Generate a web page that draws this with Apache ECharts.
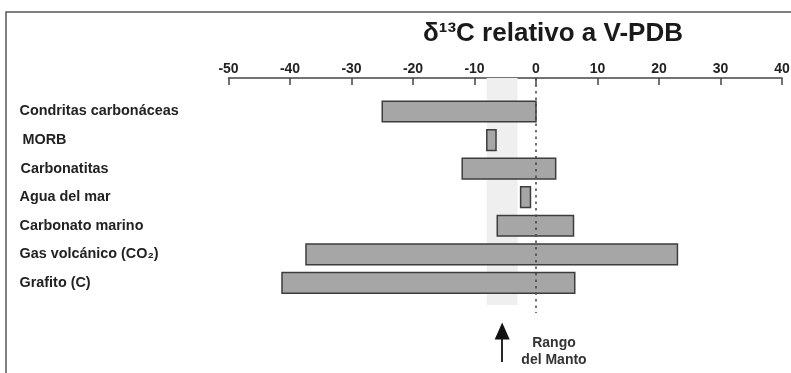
<!DOCTYPE html>
<html>
<head>
<meta charset="utf-8">
<script src="https://cdn.jsdelivr.net/npm/echarts@6/dist/echarts.min.js"></script>
<style>html,body{margin:0;padding:0;background:#fff}#c{width:791px;height:373px}</style>
</head>
<body>
<div id="c"></div>
<script>
const categories = ['Condritas carbonáceas', 'MORB', 'Carbonatitas', 'Agua del mar', 'Carbonato marino', 'Gas volcánico (CO₂)', 'Grafito (C)'];
const lowValues  = [-25, -8, -12, -2.5, -6.3, -37.4, -41.3];
const highValues = [0, -6.5, 3.2, -0.9, 6.1, 23.0, 6.3];
const mantleRange = [-8, -3];
const mantleArrowAt = -5.5;
const xMin = -50, xMax = 40, xStep = 10;

const FONT = '"Liberation Sans", Arial, sans-serif';
const chart = echarts.init(document.getElementById('c'), null, {renderer: 'canvas'});

const rangeData = categories.map((c, i) => [lowValues[i], highValues[i], i]);
const labelIndent = [0, 3, 1, 0, 0, 0, 0];

const option = {
  animation: false,
  backgroundColor: '#fff',
  textStyle: {fontFamily: FONT},
  grid: [
    {left: 228.5, right: 9, top: 78, height: 287, containLabel: false, outerBoundsMode: 'none'},
    {left: 228.5, right: 9, top: 97.2, height: 200, containLabel: false, outerBoundsMode: 'none'}
  ],
  xAxis: [
    {
      gridIndex: 0, type: 'value', position: 'top', min: xMin, max: xMax, interval: xStep,
      axisLine: {show: true, lineStyle: {color: '#444', width: 1.5}},
      axisTick: {show: true, inside: true, length: 7, lineStyle: {color: '#444', width: 1.5}},
      axisLabel: {margin: 2, fontSize: 14, fontWeight: 'bold', color: '#222', fontFamily: FONT},
      splitLine: {show: false}
    },
    {
      gridIndex: 1, type: 'value', min: xMin, max: xMax, interval: xStep, show: false
    }
  ],
  yAxis: [
    {gridIndex: 0, type: 'value', min: 0, max: 287, inverse: true, show: false},
    {
      gridIndex: 1, type: 'category', inverse: true,
      data: categories.map((c, i) => ({value: c, textStyle: {align: 'left', padding: [0, 0, 0, labelIndent[i]]}})),
      axisLine: {show: false}, axisTick: {show: false},
      axisLabel: {align: 'left', margin: 209, fontSize: 14.4, fontWeight: 'bold', color: '#222', fontFamily: FONT}
    }
  ],
  series: [
    {
      type: 'scatter', xAxisIndex: 0, yAxisIndex: 0, data: [], z: 1, silent: true,
      markArea: {
        silent: true,
        itemStyle: {color: '#efefef'},
        data: [[{coord: [mantleRange[0], 0]}, {coord: [mantleRange[1], 227]}]]
      },
      markLine: {
        silent: true, symbol: ['none', 'none'], label: {show: false},
        lineStyle: {color: '#444', width: 1.5, type: [2.5, 4]},
        data: [[{coord: [0, 0]}, {coord: [0, 235]}]]
      }
    },
    {
      type: 'custom', xAxisIndex: 1, yAxisIndex: 1, z: 3,
      data: rangeData,
      encode: {x: [0, 1], y: 2},
      renderItem: function (params, api) {
        const a = api.coord([api.value(0), api.value(2)]);
        const b = api.coord([api.value(1), api.value(2)]);
        const h = api.size([0, 1])[1] * 0.724;
        return {
          type: 'rect',
          shape: {x: a[0], y: a[1] - h / 2, width: b[0] - a[0], height: h},
          style: {fill: '#a6a6a6', stroke: '#3d3d3d', lineWidth: 1.5}
        };
      }
    },
    {
      type: 'scatter', xAxisIndex: 0, yAxisIndex: 0, data: [], z: 4, silent: true,
      markLine: {
        silent: true, symbol: ['none', 'triangle'], symbolSize: [15, 17], label: {show: false},
        lineStyle: {color: '#111', width: 1.8, type: 'solid'},
        itemStyle: {color: '#111'},
        data: [[{coord: [mantleArrowAt, 284]}, {coord: [mantleArrowAt, 253]}]]
      }
    }
  ],
  graphic: [
    {type: 'polyline', shape: {points: [[6, 373], [6, 12], [791, 12]]}, style: {stroke: '#555', lineWidth: 1.5, fill: null}},
    {type: 'text', x: 553, y: 34, style: {text: 'δ¹³C relativo a V-PDB', font: 'bold 26px ' + FONT, fill: '#1a1a1a', textAlign: 'center', textVerticalAlign: 'middle'}},
    {type: 'text', x: 554, y: 351.5, style: {text: 'Rango\ndel Manto', font: 'bold 14px ' + FONT, lineHeight: 17, fill: '#333', textAlign: 'center', textVerticalAlign: 'middle'}}
  ]
};
chart.setOption(option);
</script>
</body>
</html>
